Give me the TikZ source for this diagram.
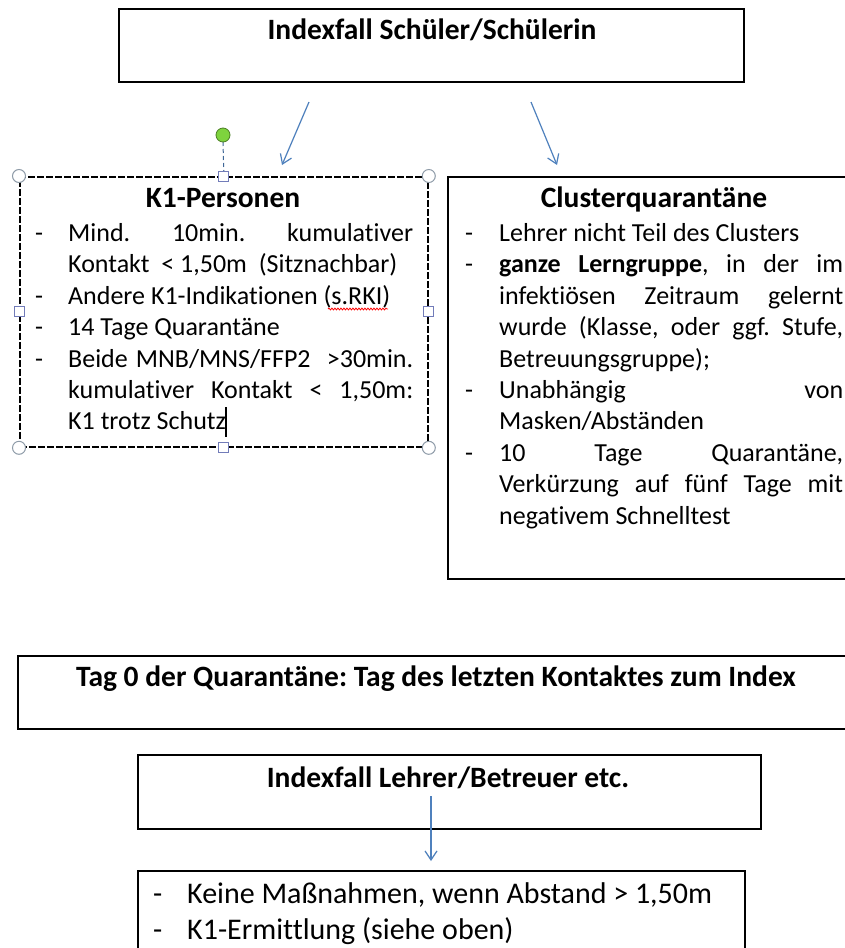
\documentclass[tikz,border=0pt]{standalone}
\usepackage{fontspec}
\setmainfont{Carlito}[Ligatures=NoCommon]
\usetikzlibrary{arrows.meta,decorations.pathmorphing,calc}
\definecolor{arrowblue}{HTML}{4F81BD}
\definecolor{handlegreen}{HTML}{7ED33E}
\definecolor{handleedge}{HTML}{8E9BA8}
\newcommand\dashitem{\makebox[33pt][l]{-}}
\newcommand\contline{\hspace*{33pt}}
\newcommand\jl[1]{\makebox[345pt][s]{#1}}
\newcommand\txtcursor{\kern-1pt\rule[-7pt]{1.6pt}{30pt}}
\frenchspacing
\begin{document}
\frenchspacing
\begin{tikzpicture}[x=1pt,y=-1pt,
  boxline/.style={draw=black, line width=2.2pt, inner sep=0, anchor=north west},
  k1line/.style={draw=black, line width=1.8pt, dash pattern=on 7pt off 2pt, inner sep=0, anchor=north west},
  ttl/.style={font=\fontsize{29.5}{35}\selectfont\bfseries, inner sep=0, anchor=base},
  conn/.style={draw=arrowblue, line width=1.2pt, -{Straight Barb[length=9pt,width=12pt]}},
  body/.style={inner sep=0, anchor=base west},
  hcircle/.style={draw=handleedge, fill=white, line width=1pt},
  hsquare/.style={draw=handleedge!80!blue, fill=white, line width=1pt}]
\useasboundingbox (0,0) rectangle (845,948);
\clip (0,0) rectangle (845,948);
\fill[white] (0,0) rectangle (845,948);

% boxes
\node[boxline, minimum width=625pt, minimum height=73pt] (topbox) at (118,8) {};
\node[k1line, minimum width=408pt, minimum height=270pt] (k1box) at (19,176) {};
\node[boxline, minimum width=414pt, minimum height=402pt] (clbox) at (447,176) {};
\node[boxline, minimum width=840pt, minimum height=73pt] (tagbox) at (17,655) {};
\node[boxline, minimum width=623pt, minimum height=74pt] (lehrerbox) at (137,754) {};
\node[boxline, minimum width=607pt, minimum height=120pt] (massbox) at (137,870) {};

% titles
\node[ttl] (toptitle) at (432,39) {Indexfall Schüler/Schülerin};
\node[ttl] (k1title) at (223,207) {K1-Personen};
\node[ttl] (cltitle) at (654,207) {Clusterquarantäne};
\node[ttl] (tagtitle) at (436,686) {Tag 0 der Quarantäne: Tag des letzten Kontaktes zum Index};
\node[ttl] (lehrertitle) at (448,787) {Indexfall Lehrer/Betreuer etc.};

% K1 list
\node[body] (k1list) at (35,241.5) {\begin{minipage}[t]{378pt}\fontsize{26}{31.4}\selectfont\parindent=0pt\frenchspacing
\dashitem\jl{Mind. 10min. kumulativer}\\
\contline Kontakt \ < 1,50m \ (Sitznachbar)\\
\dashitem Andere K1-Indikationen (s.RKI)\\
\dashitem 14 Tage Quarantäne\\
\dashitem\jl{Beide MNB/MNS/FFP2 \ >30min.}\\
\contline\jl{kumulativer Kontakt < 1,50m:}\\
\contline K1 trotz Schutz\txtcursor
\end{minipage}};

% Cluster list
\node[body] (cllist) at (465,241.5) {\begin{minipage}[t]{378pt}\fontsize{26}{31.4}\selectfont\parindent=0pt\frenchspacing
\makebox[34pt][l]{-}Lehrer nicht Teil des Clusters\\
\makebox[34pt][l]{-}\makebox[344pt][s]{\textbf{ganze Lerngruppe}, in der im}\\
\hspace*{34pt}\makebox[344pt][s]{infektiösen Zeitraum gelernt}\\
\hspace*{34pt}\makebox[344pt][s]{wurde (Klasse, oder ggf. Stufe,}\\
\hspace*{34pt}Betreuungsgruppe);\\
\makebox[34pt][l]{-}\makebox[344pt][s]{Unabhängig von}\\
\hspace*{34pt}Masken/Abständen\\
\makebox[34pt][l]{-}\makebox[344pt][s]{10 Tage Quarantäne,}\\
\hspace*{34pt}\makebox[344pt][s]{Verkürzung auf fünf Tage mit}\\
\hspace*{34pt}negativem Schnelltest
\end{minipage}};

% bottom list
\node[body] (masslist) at (153,903) {\begin{minipage}[t]{600pt}\fontsize{30}{36}\selectfont\parindent=0pt\frenchspacing
\makebox[34pt][l]{-}Keine Maßnahmen, wenn Abstand > 1,50m\\
\makebox[34pt][l]{-}K1-Ermittlung (siehe oben)
\end{minipage}};

% connectors
\coordinate (a1s) at (309,102);
\coordinate (a1e) at (282,165);
\coordinate (a2s) at (531,102);
\coordinate (a2e) at (557,165);
\coordinate (a3s) at (431,796);
\coordinate (a3e) at (431,861);
\draw[conn] (a1s) -- (a1e);
\draw[conn] (a2s) -- (a2e);
\draw[conn] (a3s) -- (a3e);

% spell-check squiggle
\draw[red, line width=0.8pt, decorate, decoration={snake, amplitude=0.9pt, segment length=3pt}] (328,309) -- (388,309);

% selection handles of K1 box
\coordinate (rot) at (223,135);
\draw[arrowblue!80!black, line width=1pt, dash pattern=on 4pt off 3pt] (223,142) -- (k1box.north);
\draw[fill=handlegreen, draw=handlegreen!60!black, line width=0.8pt] (rot) circle (7pt);
\foreach \c in {north west, north east, south west, south east}
  \draw[hcircle] (k1box.\c) circle (6.5pt);
\foreach \c in {north, south, west, east}
  \draw[hsquare] ($(k1box.\c)+(-5,-5)$) rectangle ($(k1box.\c)+(5,5)$);
\end{tikzpicture}
\end{document}
